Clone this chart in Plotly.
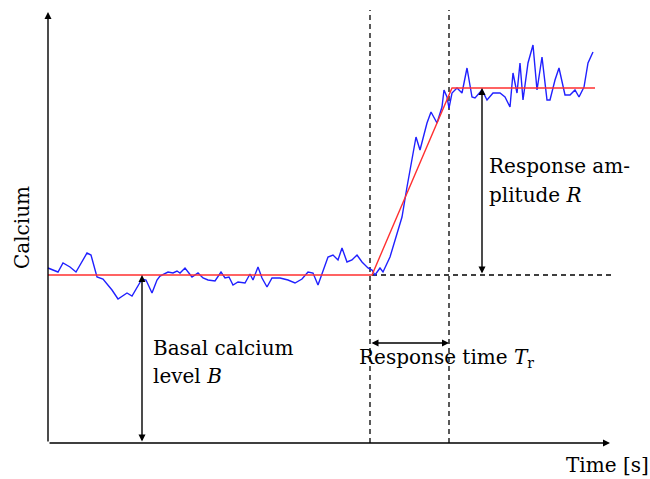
import plotly.graph_objects as go

# Measured calcium trace (time in a.u., calcium in a.u.)
time = [0, 10, 15, 22, 28, 39, 43, 49, 55, 64, 70, 79, 84, 92, 94, 98, 104, 109, 112, 120,
        125, 129, 132, 137, 144, 150, 155, 160, 167, 173, 177, 181, 185, 190, 197, 202, 205, 210,
        214, 219, 224, 232, 240, 247, 254, 260, 265, 270, 274, 280, 285, 290, 294, 299, 304, 309,
        314, 320, 324, 327, 332, 335, 342, 349, 354, 359, 364, 368, 372, 379, 383, 386, 389, 394,
        396, 399, 401, 404, 409, 414, 419, 424, 427, 434, 439, 445, 452, 457, 462, 465, 469, 472,
        475, 480, 485, 489, 494, 499, 502, 507, 511, 517, 522, 527, 531, 536, 540, 545]
calcium = [175, 171, 180, 176, 171, 190, 188, 166, 164, 153, 144, 150, 147, 160, 164, 163, 150, 163, 167, 171,
           170, 172, 170, 175, 166, 170, 165, 163, 162, 171, 165, 166, 158, 161, 160, 169, 163, 176,
           165, 156, 165, 165, 163, 160, 164, 171, 170, 158, 170, 186, 188, 183, 195, 181, 183, 188,
           181, 175, 173, 168, 175, 171, 186, 210, 226, 256, 283, 306, 293, 320, 331, 325, 320, 336,
           353, 346, 335, 350, 355, 350, 375, 346, 345, 353, 343, 350, 350, 346, 336, 370, 350, 380,
           343, 380, 398, 353, 386, 343, 343, 363, 375, 348, 348, 353, 346, 356, 380, 391]

# Piecewise linear fit
fit_time = [0, 324, 404, 547]
fit_calcium = [168, 168, 355, 355]

basal_level = 168
plateau_level = 355
t_start = 322
t_end = 401
t_basal_arrow = 94
t_amp_arrow = 434
c_time_arrow = 100
x_axis_end = 562
y_axis_end = 431
dash_top = 433
hdash_end = 563

fig = go.Figure()

dash_style = dict(color="black", width=1.3, dash="5px,4px")
fig.add_trace(go.Scatter(x=[t_start, t_start], y=[0, dash_top], mode="lines", line=dash_style, hoverinfo="skip"))
fig.add_trace(go.Scatter(x=[t_end, t_end], y=[0, dash_top], mode="lines", line=dash_style, hoverinfo="skip"))
fig.add_trace(go.Scatter(x=[fit_time[1], hdash_end], y=[basal_level, basal_level], mode="lines",
                         line=dash_style, hoverinfo="skip"))

fig.add_trace(go.Scatter(x=time, y=calcium, mode="lines", line=dict(color="#2020ff", width=1.4)))
fig.add_trace(go.Scatter(x=fit_time, y=fit_calcium, mode="lines", line=dict(color="#ff3030", width=1.4)))

ann = []
def arrow(x, y, ax, ay, side="end"):
    ann.append(dict(x=x, y=y, ax=ax, ay=ay, xref="x", yref="y", axref="x", ayref="y",
                    text="", showarrow=True, arrowhead=2, arrowsize=1, arrowwidth=1.4,
                    arrowcolor="black", arrowside=side, standoff=0, startstandoff=0))

# axes
arrow(x_axis_end, 0, 0, 0)
arrow(0, y_axis_end, 0, 0)
# measurement arrows
arrow(t_basal_arrow, basal_level, t_basal_arrow, 0, "end+start")
arrow(t_amp_arrow, plateau_level, t_amp_arrow, basal_level, "end+start")
arrow(t_end, c_time_arrow, t_start, c_time_arrow, "end+start")

font = dict(family="DejaVu Serif", size=20, color="black")
def label(x, y, text, xanchor="left", **kw):
    ann.append(dict(x=x, y=y, xref="x", yref="y", text=text, showarrow=False,
                    xanchor=xanchor, yanchor="middle", align="left", font=font, **kw))

label(103, 95, "Basal calcium")
label(103, 67, "level <i>B</i>")
label(439, 277, "Response am-")
label(439, 248, "plitude <i>R</i>")
label(309, 85, "Response time <i>T</i><sub>r</sub>")
label(516, -22, "Time [s]")
label(-26, 215, "Calcium", xanchor="center", textangle=-90)

fig.update_layout(
    width=650, height=479, margin=dict(l=0, r=0, t=0, b=0),
    paper_bgcolor="white", plot_bgcolor="white", showlegend=False,
    xaxis=dict(range=[-48, 602], visible=False, fixedrange=True),
    yaxis=dict(range=[-36, 443], visible=False, fixedrange=True),
    annotations=ann,
)
fig.write_html("out.html")
